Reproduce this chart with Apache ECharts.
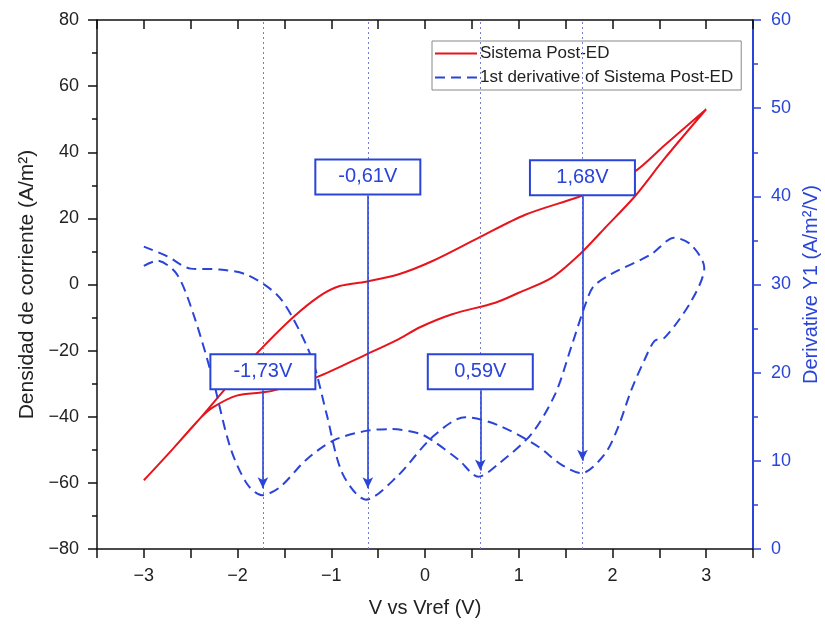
<!DOCTYPE html>
<html>
<head>
<meta charset="utf-8">
<script src="https://cdn.jsdelivr.net/npm/echarts@6/dist/echarts.min.js"></script>
<style>html,body{margin:0;padding:0;background:#fff}#c{width:825px;height:626px}</style>
</head>
<body>
<div id="c"></div>
<script>
// Current density loop (Sistema Post-ED): lower branch -3 -> 3, then upper branch 3 -> -3
var redX = [-3.0,-2.7,-2.4,-2.26,-2.01,-1.73,-1.62,-1.16,-0.63,-0.28,-0.06,0.29,0.75,1.0,1.35,1.65,1.92,2.24,2.56,3.0,
            2.56,2.24,1.9,1.63,1.07,0.57,0.08,-0.28,-0.63,-0.91,-1.125,-1.41,-1.8,-2.1,-2.4,-2.7,-3.0];
var redY = [-59.2,-50,-40.5,-37.1,-33.6,-32.6,-32.1,-28.1,-21.2,-16.5,-13.0,-9.0,-5.5,-2.5,2.0,9.1,17.1,26.7,38.2,53.0,
            42.2,34.2,29.5,26.4,21.1,14.1,7.1,3.1,0.85,-0.45,-3.5,-10.0,-21.0,-30.5,-40.5,-50,-59.2];
// First derivative loop (right axis)
var derX = [-3.0,-2.86,-2.65,-2.47,-2.26,-2.08,-1.9,-1.74,-1.55,-1.27,-0.98,-0.63,-0.35,-0.06,0.08,0.36,0.57,0.79,1.14,1.39,1.56,1.72,1.8,1.99,2.41,2.66,2.84,2.98,
            2.84,2.56,2.45,2.34,2.2,2.06,1.92,1.67,1.45,1.21,0.79,0.43,0.08,-0.3,-0.63,-0.88,-1.05,-1.2,-1.41,-1.585,-1.9,-2.19,-2.5,-2.75,-3.0];
var derY = [32.1,32.7,31.2,26.6,19.1,11.6,7.4,6.1,7.0,10.1,12.3,13.4,13.6,13.1,12.3,10.1,8.2,9.7,13.1,17.6,22.9,28.0,29.8,31.2,33.4,35.3,34.5,31.9,
            28.1,24.0,23.6,21.4,18.0,13.8,10.8,8.6,9.6,11.6,14.0,14.95,12.7,8.2,5.6,8.55,15.3,21.4,26.2,28.9,31.1,31.7,31.8,33.2,34.3];
// Peak annotations
var peakX = [-1.73, -0.61, 0.59, 1.68];
var peakLabels = ['-1,73V', '-0,61V', '0,59V', '1,68V'];
var boxCenterY = [20.1, 42.2, 20.1, 42.1];   // right-axis units
var boxBottomY = [18.0, 40.1, 18.0, 40.0];
var arrowTipY = [6.9, 6.9, 8.9, 10.0];
var xTicks = [-3,-2,-1,0,1,2,3];

var BLUE = '#2a44d8';
var RED = '#e8141c';
var FONT = 'Liberation Sans, Arial, sans-serif';

function pairs(xs, ys){ return xs.map(function(x,i){ return [x, ys[i]]; }); }
function minus(v){ return String(v).replace('-', '\u2212'); }

var chart = echarts.init(document.getElementById('c'), null, {renderer:'canvas'});
var option = {
  animation: false,
  textStyle: {fontFamily: FONT},
  grid: {left: 97, right: 72, top: 20, bottom: 77, containLabel: false, outerBoundsMode: 'none'},
  legend: {
    orient: 'vertical', left: 432, top: 41,
    borderColor: '#888', borderWidth: 1, padding: [4, 8, 4, 2],
    itemWidth: 42, itemHeight: 12, itemGap: 7,
    itemStyle: {opacity: 0},
    textStyle: {fontFamily: FONT, fontSize: 17, color: '#222', padding: [0,0,0,-2]},
    data: ['Sistema Post-ED', '1st derivative of Sistema Post-ED']
  },
  xAxis: [{
    type: 'value', min: -3.5, max: 3.5, interval: 0.5, position: 'bottom',
    name: 'V vs Vref (V)', nameLocation: 'middle', nameGap: 49,
    nameTextStyle: {fontSize: 20, color: '#222', fontFamily: FONT},
    axisLine: {show: true, onZero: false, lineStyle: {color: '#111', width: 1.5}},
    axisTick: {show: true, inside: false, length: 9, lineStyle: {color: '#111', width: 1.5}},
    axisLabel: {fontSize: 18, color: '#222', margin: 18, fontFamily: FONT,
      formatter: function(v){ return xTicks.indexOf(v) >= 0 ? minus(v) : ''; }},
    splitLine: {show: false}
  }, {
    type: 'value', min: -3.5, max: 3.5, interval: 0.5, position: 'top',
    axisLine: {show: true, onZero: false, lineStyle: {color: '#111', width: 1.5}},
    axisTick: {show: true, inside: true, length: 9, lineStyle: {color: '#111', width: 1.5}},
    axisLabel: {show: false}, splitLine: {show: false}
  }],
  yAxis: [{
    type: 'value', min: -80, max: 80, interval: 20, position: 'left',
    name: 'Densidad de corriente (A/m\u00b2)', nameLocation: 'middle', nameGap: 58,
    nameTextStyle: {fontSize: 21, color: '#222', fontFamily: FONT},
    axisLine: {show: true, onZero: false, lineStyle: {color: '#111', width: 1.5}},
    axisTick: {show: true, length: 9, lineStyle: {color: '#111', width: 1.5}},
    minorTick: {show: true, splitNumber: 2, length: 5, lineStyle: {color: '#111', width: 1.5}},
    axisLabel: {fontSize: 18, color: '#222', margin: 18, fontFamily: FONT, formatter: minus},
    splitLine: {show: false}
  }, {
    type: 'value', min: 0, max: 60, interval: 10, position: 'right',
    name: 'Derivative Y1 (A/m\u00b2/V)', nameLocation: 'middle', nameGap: 48, nameRotate: 90,
    nameTextStyle: {fontSize: 20, color: BLUE, fontFamily: FONT},
    axisLine: {show: true, onZero: false, lineStyle: {color: BLUE, width: 2}},
    axisTick: {show: true, length: 8, lineStyle: {color: BLUE, width: 1.5}},
    minorTick: {show: true, splitNumber: 2, length: 5, lineStyle: {color: BLUE, width: 1.5}},
    axisLabel: {fontSize: 18, color: BLUE, margin: 18, fontFamily: FONT},
    splitLine: {show: false}
  }],
  series: [{
    name: 'Sistema Post-ED', type: 'line', xAxisIndex: 0, yAxisIndex: 0,
    data: pairs(redX, redY), showSymbol: false, symbol: 'none', smooth: 0.3,
    lineStyle: {color: RED, width: 2}, itemStyle: {color: RED}, z: 3,
    markLine: {
      silent: true, symbol: ['none','none'], label: {show: false},
      lineStyle: {color: '#7a7ad0', type: [2, 3], width: 1},
      data: peakX.map(function(x){ return {xAxis: x}; })
    }
  }, {
    name: '1st derivative of Sistema Post-ED', type: 'line', xAxisIndex: 0, yAxisIndex: 1,
    data: pairs(derX, derY), showSymbol: false, symbol: 'none', smooth: 0.3,
    lineStyle: {color: BLUE, width: 2, type: [10, 6]}, itemStyle: {color: BLUE}, z: 3,
    markLine: {
      silent: true, symbol: ['none','arrow'], symbolSize: [8, 11], label: {show: false},
      lineStyle: {color: BLUE, type: 'solid', width: 1.6},
      data: peakX.map(function(x, i){ return [{coord: [x, boxBottomY[i]]}, {coord: [x, arrowTipY[i]]}]; })
    },
    markPoint: {
      silent: true, symbol: 'rect', symbolSize: [1, 1],
      itemStyle: {color: 'rgba(0,0,0,0)'},
      label: {show: true, position: 'inside', color: BLUE, fontSize: 20, fontFamily: FONT,
        backgroundColor: '#fff', borderColor: BLUE, borderWidth: 2,
        width: 103, height: 33, lineHeight: 33, align: 'center', verticalAlign: 'middle', padding: 0},
      z: 10,
      data: peakX.map(function(x, i){ return {coord: [x, boxCenterY[i]], value: peakLabels[i], label: {formatter: peakLabels[i]}}; })
    }
  }]
};
chart.setOption(option);
</script>
</body>
</html>
